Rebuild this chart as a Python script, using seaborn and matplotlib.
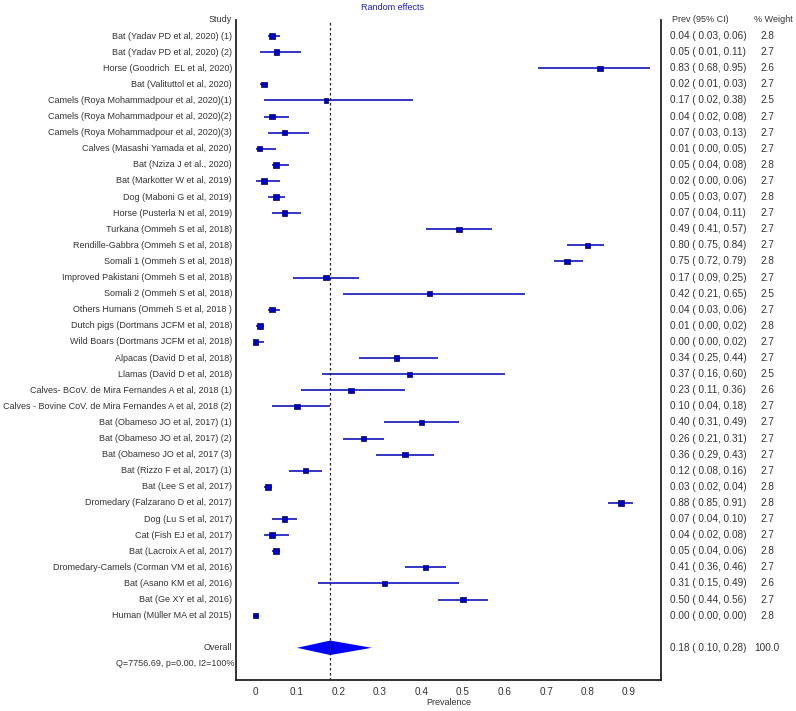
import numpy as np
import pandas as pd
import matplotlib
matplotlib.use("Agg")
import matplotlib.pyplot as plt
import matplotlib.transforms as mtransforms
import seaborn as sns

studies = [
    "Bat (Yadav PD et al, 2020) (1)",
    "Bat (Yadav PD et al, 2020) (2)",
    "Horse (Goodrich  EL et al, 2020)",
    "Bat (Valituttol et al, 2020)",
    "Camels (Roya Mohammadpour et al, 2020)(1)",
    "Camels (Roya Mohammadpour et al, 2020)(2)",
    "Camels (Roya Mohammadpour et al, 2020)(3)",
    "Calves (Masashi Yamada et al, 2020)",
    "Bat (Nziza J et al., 2020)",
    "Bat (Markotter W et al, 2019)",
    "Dog (Maboni G et al, 2019)",
    "Horse (Pusterla N et al, 2019)",
    "Turkana (Ommeh S et al, 2018)",
    "Rendille-Gabbra (Ommeh S et al, 2018)",
    "Somali 1 (Ommeh S et al, 2018)",
    "Improved Pakistani (Ommeh S et al, 2018)",
    "Somali 2 (Ommeh S et al, 2018)",
    "Others Humans (Ommeh S et al, 2018 )",
    "Dutch pigs (Dortmans JCFM et al, 2018)",
    "Wild Boars (Dortmans JCFM et al, 2018)",
    "Alpacas (David D et al, 2018)",
    "Llamas (David D et al, 2018)",
    "Calves- BCoV. de Mira Fernandes A et al, 2018 (1)",
    "Calves - Bovine CoV. de Mira Fernandes A et al, 2018 (2)",
    "Bat (Obameso JO et al, 2017) (1)",
    "Bat (Obameso JO et al, 2017) (2)",
    "Bat (Obameso JO et al, 2017 (3)",
    "Bat (Rizzo F et al, 2017) (1)",
    "Bat (Lee S et al, 2017)",
    "Dromedary (Falzarano D et al, 2017)",
    "Dog (Lu S et al, 2017)",
    "Cat (Fish EJ et al, 2017)",
    "Bat (Lacroix A et al, 2017)",
    "Dromedary-Camels (Corman VM et al, 2016)",
    "Bat (Asano KM et al, 2016)",
    "Bat (Ge XY et al, 2016)",
    "Human (Müller MA et al 2015)",
]
prev = [0.04, 0.05, 0.83, 0.02, 0.17, 0.04, 0.07, 0.01, 0.05, 0.02, 0.05, 0.07,
        0.49, 0.80, 0.75, 0.17, 0.42, 0.04, 0.01, 0.00, 0.34, 0.37, 0.23, 0.10,
        0.40, 0.26, 0.36, 0.12, 0.03, 0.88, 0.07, 0.04, 0.05, 0.41, 0.31, 0.50, 0.00]
lower = [0.03, 0.01, 0.68, 0.01, 0.02, 0.02, 0.03, 0.00, 0.04, 0.00, 0.03, 0.04,
         0.41, 0.75, 0.72, 0.09, 0.21, 0.03, 0.00, 0.00, 0.25, 0.16, 0.11, 0.04,
         0.31, 0.21, 0.29, 0.08, 0.02, 0.85, 0.04, 0.02, 0.04, 0.36, 0.15, 0.44, 0.00]
upper = [0.06, 0.11, 0.95, 0.03, 0.38, 0.08, 0.13, 0.05, 0.08, 0.06, 0.07, 0.11,
         0.57, 0.84, 0.79, 0.25, 0.65, 0.06, 0.02, 0.02, 0.44, 0.60, 0.36, 0.18,
         0.49, 0.31, 0.43, 0.16, 0.04, 0.91, 0.10, 0.08, 0.06, 0.46, 0.49, 0.56, 0.00]
weight = [2.8, 2.7, 2.6, 2.7, 2.5, 2.7, 2.7, 2.7, 2.8, 2.7, 2.8, 2.7,
          2.7, 2.7, 2.8, 2.7, 2.5, 2.7, 2.8, 2.7, 2.7, 2.5, 2.6, 2.7,
          2.7, 2.7, 2.7, 2.7, 2.8, 2.8, 2.7, 2.7, 2.8, 2.7, 2.6, 2.7, 2.8]

overall_prev = 0.18
overall_lo = 0.10
overall_hi = 0.28
overall_weight = 100.0
het_text = "Q=7756.69, p=0.00, I2=100%"
xticks = [0, 0.1, 0.2, 0.3, 0.4, 0.5, 0.6, 0.7, 0.8, 0.9]

df = pd.DataFrame({"study": studies, "prev": prev, "lo": lower, "hi": upper, "w": weight})
df["row"] = np.arange(len(df))
overall_row = len(df) + 1
het_row = len(df) + 2

sns.set_style("white")
plt.rcParams["font.family"] = ["Liberation Sans", "DejaVu Sans"]
txt = "#333333"

fig = plt.figure(figsize=(7.96, 7.11), dpi=100)
ax = fig.add_axes([0.2965, 0.0436, 0.8305 - 0.2965, 0.9719 - 0.0436])

# CI lines
ax.hlines(df["row"], df["lo"], df["hi"], color="#3535c8", lw=1.4, zorder=2)
# squares, sized by weight
sns.scatterplot(data=df, x="prev", y="row", marker="s", size="w", sizes=(12, 17),
                color="#0000c8", edgecolor="#000060", linewidth=0.5,
                legend=False, ax=ax, zorder=3)

# overall diamond
ax.fill([overall_lo, overall_prev, overall_hi, overall_prev],
        [overall_row, overall_row - 0.45, overall_row, overall_row + 0.45],
        color="#0000ff", zorder=3, lw=0)
ax.axvline(overall_prev, color="#222222", ls=(0, (2, 2)), lw=0.9, zorder=4)

ax.set_xlim(-0.047, 0.977)
ax.set_ylim(40, -1)
ax.set_yticks([])
ax.set_xticks(xticks)
ax.set_xticklabels([f"{v:g}" for v in xticks])
fs = 6.5
nfs = 7.2
ax.tick_params(axis="x", length=0, labelsize=nfs, colors=txt, pad=5)
ax.set_xlabel("Prevalence", fontsize=fs, color=txt, labelpad=1)
ax.set_ylabel("")
for s in ["left", "bottom", "right"]:
    ax.spines[s].set_color("#222222")
    ax.spines[s].set_linewidth(1.3)
ax.spines["top"].set_visible(False)

trans = mtransforms.blended_transform_factory(fig.transFigure, ax.transData)
lab_x = 232 / 796
ci_x = 670 / 796
w_x = 767 / 796

ax.text(lab_x, -1, "Study", ha="right", va="center", fontsize=fs, color=txt, transform=trans)
ax.text(672 / 796, -1, "Prev (95% CI)", ha="left", va="center", fontsize=fs, color=txt, transform=trans)
ax.text(754 / 796, -1, "% Weight", ha="left", va="center", fontsize=fs, color=txt, transform=trans)

for _, r in df.iterrows():
    ax.text(lab_x, r["row"], r["study"], ha="right", va="center", fontsize=fs, color=txt, transform=trans)
    ax.text(ci_x, r["row"], f"{r['prev']:.2f} ( {r['lo']:.2f}, {r['hi']:.2f})",
            ha="left", va="center", fontsize=nfs, color=txt, transform=trans)
    ax.text(w_x, r["row"], f"{r['w']:.1f}", ha="center", va="center", fontsize=nfs, color=txt, transform=trans)

ax.text(lab_x, overall_row, "Overall", ha="right", va="center", fontsize=fs, color=txt, transform=trans)
ax.text(ci_x, overall_row, f"{overall_prev:.2f} ( {overall_lo:.2f}, {overall_hi:.2f})",
        ha="left", va="center", fontsize=nfs, color=txt, transform=trans)
ax.text(w_x, overall_row, f"{overall_weight:.1f}", ha="center", va="center", fontsize=nfs, color=txt, transform=trans)
ax.text(234 / 796, het_row, het_text, ha="right", va="center", fontsize=fs, color=txt, transform=trans)

fig.text(361 / 796, 1 - 8 / 711, "Random effects", ha="left", va="center", fontsize=fs, color="#2020c0")

fig.savefig("out.png", dpi=100)
